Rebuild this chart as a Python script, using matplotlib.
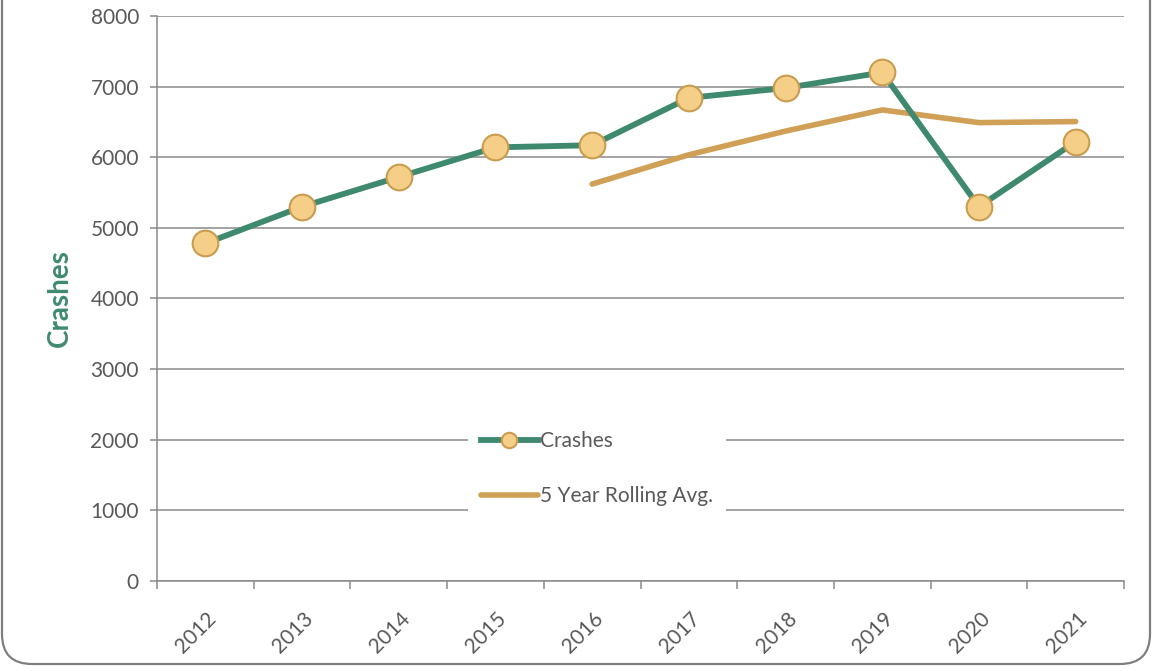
import matplotlib
matplotlib.use("Agg")
import matplotlib.pyplot as plt
import matplotlib.transforms as mtransforms
import numpy as np
from matplotlib.patches import FancyBboxPatch

# data
years = ['2012', '2013', '2014', '2015', '2016', '2017', '2018', '2019', '2020', '2021']
crashes = [4780, 5300, 5720, 6140, 6170, 6840, 6980, 7200, 5300, 6220]
rolling_years = ['2016', '2017', '2018', '2019', '2020', '2021']
rolling_avg = [5620, 6035, 6370, 6670, 6490, 6505]

plt.rcParams['font.family'] = ['Lato', 'DejaVu Sans']

green = '#3f8a6f'
gold = '#cfa055'
grey = '#8a8a8a'
text_grey = '#595959'

fig = plt.figure(figsize=(11.52, 6.71), dpi=100)
ax = fig.add_axes([0.1363, 0.1341, 0.8394, 0.8421])

x = np.arange(len(years))
xr = np.array([years.index(y) for y in rolling_years])

ax.plot(xr, rolling_avg, color=gold, lw=4.0, solid_capstyle='round',
        label='5 Year Rolling Avg.', zorder=3)
ax.plot(x, crashes, color=green, lw=4.2, marker='o', markersize=18.5,
        markerfacecolor='#f5cf88', markeredgecolor='#c99c50', markeredgewidth=1.5,
        label='Crashes', zorder=4)

ax.set_xlim(-0.5, len(years) - 0.5)
ax.set_ylim(0, 8000)
ax.set_yticks(np.arange(0, 8001, 1000))
ax.grid(axis='y', color=grey, lw=1.1)
ax.set_axisbelow(True)

# category labels at centres, tick marks at boundaries
ax.set_xticks(x)
ax.set_xticklabels(years, rotation=45, ha='right', va='center', rotation_mode='anchor')
ax.set_xticks(np.arange(-0.5, len(years)), minor=True)
ax.tick_params(axis='x', which='major', length=0, pad=25, labelsize=15, labelcolor=text_grey)
ax.tick_params(axis='x', which='minor', length=6, width=1.1, color=grey, direction='out')
ax.tick_params(axis='y', length=5, width=1.1, color=grey, pad=8, labelsize=15, labelcolor=text_grey)
shift = mtransforms.ScaledTranslation(0.08, 0, fig.dpi_scale_trans)
for lbl in ax.get_xticklabels():
    lbl.set_transform(lbl.get_transform() + shift)

for side in ['top', 'right']:
    ax.spines[side].set_visible(False)
for side in ['left', 'bottom']:
    ax.spines[side].set_color(grey)
    ax.spines[side].set_linewidth(1.1)

ax.set_ylabel('Crashes', color=green, fontsize=20, fontweight='bold', labelpad=13)

h, l = ax.get_legend_handles_labels()
leg = ax.legend(h[::-1], l[::-1], loc='center', bbox_to_anchor=(0.455, 0.199),
                frameon=True, facecolor='white', edgecolor='none', framealpha=1,
                fontsize=15, handlelength=2.75, handletextpad=0.1, labelspacing=1.7,
                borderpad=0.6, markerscale=0.6)
for t in leg.get_texts():
    t.set_color(text_grey)

# rounded outer border (top edge cut off in the reference)
border = FancyBboxPatch((0.02, 0.07), 11.48, 7.2, boxstyle='round,pad=0,rounding_size=0.3',
                        transform=fig.dpi_scale_trans, facecolor='none',
                        edgecolor='#7f7f7f', lw=1.6)
fig.patches.append(border)

fig.savefig('out.png', dpi=100)
